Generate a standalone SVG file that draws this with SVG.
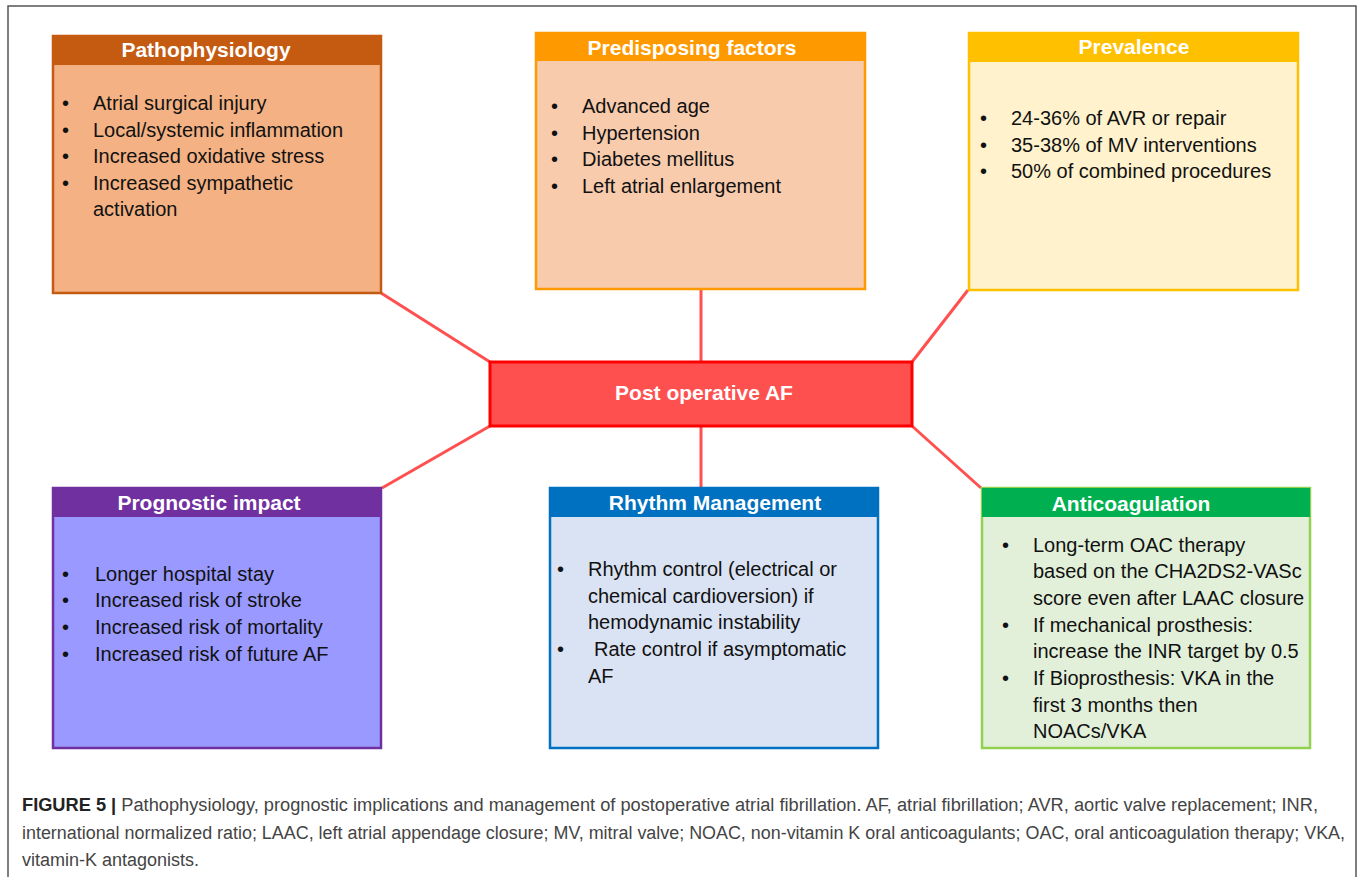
<svg xmlns="http://www.w3.org/2000/svg" width="1358" height="877" viewBox="0 0 1358 877">
<style>
.hd{font-family:"Liberation Sans",Arial,sans-serif;font-weight:bold;font-size:21px;fill:#fff;text-anchor:middle}
.bt{font-family:"Liberation Sans",Arial,sans-serif;font-size:20px;fill:#111}
.cap{font-family:"Liberation Sans",Arial,sans-serif;font-size:18px;fill:#444}
.conn{stroke:#FF5050;stroke-width:3;fill:none}
</style>
<rect width="1358" height="877" fill="#fff"/>
<path d="M8,877 V6 H1356 V877" fill="none" stroke="#555" stroke-width="1.5"/>
<g id="connectors">
<line class="conn" x1="381" y1="293" x2="490" y2="362"/>
<line class="conn" x1="701" y1="289" x2="701" y2="362"/>
<line class="conn" x1="968" y1="290" x2="912" y2="362"/>
<line class="conn" x1="490" y1="426" x2="382" y2="488"/>
<line class="conn" x1="701" y1="426" x2="701" y2="488"/>
<line class="conn" x1="912" y1="426" x2="981" y2="488"/>
</g>
<g id="pathophysiology">
<rect x="53" y="36" width="328" height="257" fill="#F4B183" stroke="#C55A11" stroke-width="2.5"/>
<rect x="53" y="36" width="328" height="29" fill="#C55A11"/>
<text class="hd" x="206" y="57">Pathophysiology</text>
<g class="bt">
<text x="62" y="110">•</text><text x="93" y="110">Atrial surgical injury</text>
<text x="62" y="137">•</text><text x="93" y="137">Local/systemic inflammation</text>
<text x="62" y="163">•</text><text x="93" y="163">Increased oxidative stress</text>
<text x="62" y="190">•</text><text x="93" y="190">Increased sympathetic</text>
<text x="93" y="216">activation</text>
</g>
</g>
<g id="predisposing">
<rect x="536" y="33" width="329" height="256" fill="#F8CBAD" stroke="#FF9900" stroke-width="2.5"/>
<rect x="536" y="33" width="329" height="28" fill="#FF9900"/>
<text class="hd" x="692" y="55">Predisposing factors</text>
<g class="bt">
<text x="551" y="113">•</text><text x="582" y="113">Advanced age</text>
<text x="551" y="140">•</text><text x="582" y="140">Hypertension</text>
<text x="551" y="166">•</text><text x="582" y="166">Diabetes mellitus</text>
<text x="551" y="193">•</text><text x="582" y="193">Left atrial enlargement</text>
</g>
</g>
<g id="prevalence">
<rect x="969" y="33" width="329" height="257" fill="#FFF2CC" stroke="#FFC000" stroke-width="2.5"/>
<rect x="969" y="33" width="329" height="29" fill="#FFC000"/>
<text class="hd" x="1134" y="54">Prevalence</text>
<g class="bt">
<text x="980" y="125">•</text><text x="1011" y="125">24-36% of AVR or repair</text>
<text x="980" y="152">•</text><text x="1011" y="152">35-38% of MV interventions</text>
<text x="980" y="178">•</text><text x="1011" y="178">50% of combined procedures</text>
</g>
</g>
<g id="center">
<rect x="490" y="362" width="422" height="64" fill="#FF5050" stroke="#FF0000" stroke-width="3"/>
<text x="704" y="400" style="font-family:'Liberation Sans',Arial,sans-serif;font-weight:bold;font-size:21px;fill:#fff;text-anchor:middle">Post operative AF</text>
</g>
<g id="prognostic">
<rect x="53" y="488" width="328" height="260" fill="#9999FF" stroke="#7030A0" stroke-width="2.5"/>
<rect x="53" y="488" width="328" height="29" fill="#7030A0"/>
<text class="hd" x="209" y="510">Prognostic impact</text>
<g class="bt">
<text x="62" y="581">•</text><text x="95" y="581">Longer hospital stay</text>
<text x="62" y="607">•</text><text x="95" y="607">Increased risk of stroke</text>
<text x="62" y="634">•</text><text x="95" y="634">Increased risk of mortality</text>
<text x="62" y="661">•</text><text x="95" y="661">Increased risk of future AF</text>
</g>
</g>
<g id="rhythm">
<rect x="550" y="488" width="328" height="260" fill="#DAE3F3" stroke="#0070C0" stroke-width="2.5"/>
<rect x="550" y="488" width="328" height="29" fill="#0070C0"/>
<text class="hd" x="715" y="510">Rhythm Management</text>
<g class="bt">
<text x="557" y="576">•</text><text x="588" y="576">Rhythm control (electrical or</text>
<text x="588" y="603">chemical cardioversion) if</text>
<text x="588" y="629">hemodynamic instability</text>
<text x="557" y="656">•</text><text x="594" y="656">Rate control if asymptomatic</text>
<text x="588" y="683">AF</text>
</g>
</g>
<g id="anticoagulation">
<rect x="982" y="488" width="328" height="260" fill="#E2F0D9" stroke="#92D050" stroke-width="2.5"/>
<rect x="982" y="488" width="328" height="29" fill="#00B050"/>
<text class="hd" x="1131" y="511">Anticoagulation</text>
<g class="bt">
<text x="1002" y="552">•</text><text x="1033" y="552">Long-term OAC therapy</text>
<text x="1033" y="578">based on the CHA2DS2-VASc</text>
<text x="1033" y="605">score even after LAAC closure</text>
<text x="1002" y="632">•</text><text x="1033" y="632">If mechanical prosthesis:</text>
<text x="1033" y="658">increase the INR target by 0.5</text>
<text x="1002" y="685">•</text><text x="1033" y="685">If Bioprosthesis: VKA in the</text>
<text x="1033" y="712">first 3 months then</text>
<text x="1033" y="738">NOACs/VKA</text>
</g>
</g>
<g id="caption" class="cap">
<text x="22" y="811" textLength="1296" lengthAdjust="spacingAndGlyphs"><tspan font-weight="bold" fill="#222">FIGURE 5 |</tspan> Pathophysiology, prognostic implications and management of postoperative atrial fibrillation. AF, atrial fibrillation; AVR, aortic valve replacement; INR,</text>
<text x="22" y="839" textLength="1323" lengthAdjust="spacingAndGlyphs">international normalized ratio; LAAC, left atrial appendage closure; MV, mitral valve; NOAC, non-vitamin K oral anticoagulants; OAC, oral anticoagulation therapy; VKA,</text>
<text x="22" y="866">vitamin-K antagonists.</text>
</g>
</svg>
